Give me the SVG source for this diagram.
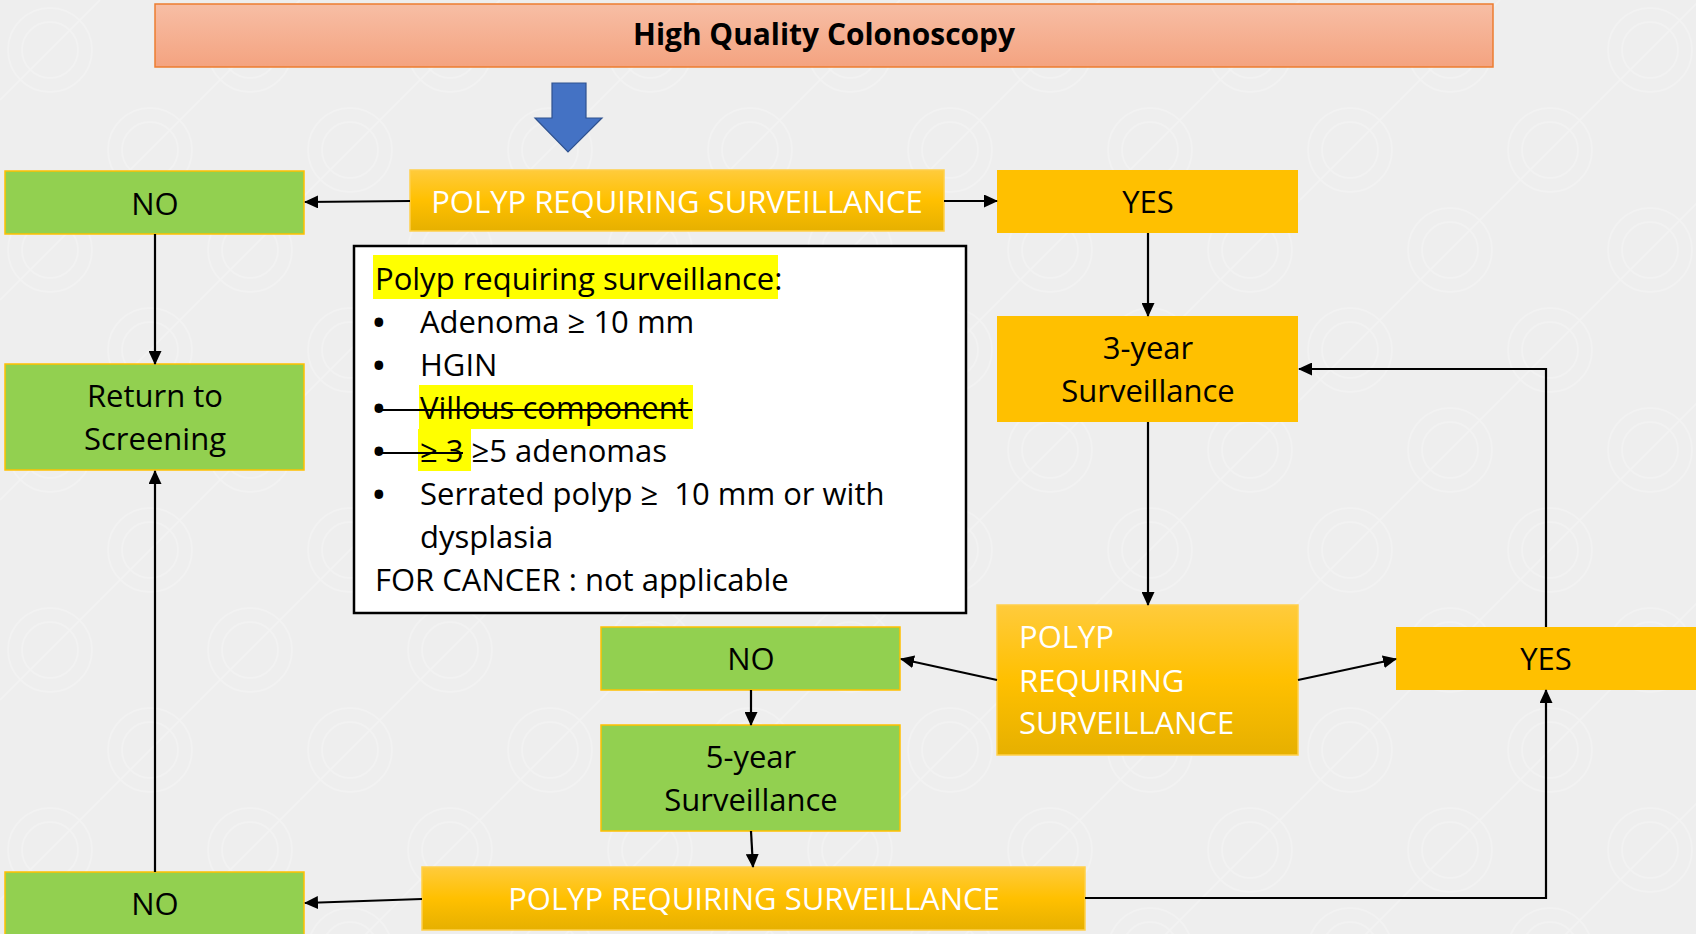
<svg xmlns="http://www.w3.org/2000/svg" width="1696" height="934" viewBox="0 0 1696 934">
<defs>
<style>
.t{font-family:"Open Sans","Noto Sans","Liberation Sans",sans-serif;font-size:31px;fill:#000}
.b{font-family:"Open Sans","Noto Sans","Liberation Sans",sans-serif;font-size:31px;font-weight:bold;fill:#000}
.w{fill:#fff}
.c{text-anchor:middle}
.green{fill:#92D050;stroke:#FFC000;stroke-width:1.5}
.yel{fill:#FFC000}
.grad{fill:url(#gy);stroke:#FFD04A;stroke-width:1.5}
.con{fill:none;stroke:#000;stroke-width:2.2}
.arr{marker-end:url(#ah)}
.hl{fill:#FFFF00}
</style>
<linearGradient id="gy" x1="0" y1="0" x2="0" y2="1">
<stop offset="0" stop-color="#FFCB3C"/>
<stop offset="0.5" stop-color="#FFC000"/>
<stop offset="1" stop-color="#E6B000"/>
</linearGradient>
<linearGradient id="gt" x1="0" y1="0" x2="0" y2="1">
<stop offset="0" stop-color="#F7BEA5"/>
<stop offset="1" stop-color="#F4A380"/>
</linearGradient>
<marker id="ah" markerUnits="userSpaceOnUse" markerWidth="14" markerHeight="13" refX="13" refY="6.5" orient="auto">
<path d="M0,0 L14,6.5 L0,13 z" fill="#000"/>
</marker>
<pattern id="bgp" width="200" height="200" patternUnits="userSpaceOnUse">
<rect width="200" height="200" fill="#EEEEEE"/>
<g fill="none" stroke="#F2F2F2" stroke-width="2">
<circle cx="50" cy="50" r="42"/><circle cx="50" cy="50" r="28"/><circle cx="150" cy="150" r="42"/><circle cx="150" cy="150" r="28"/>
<path d="M0,100 L100,0 M100,200 L200,100"/>
</g>
</pattern>
</defs>
<rect width="1696" height="934" fill="url(#bgp)"/>

<g id="title">
<rect x="155" y="4" width="1338" height="63" fill="url(#gt)" stroke="#ED7D31" stroke-width="1.5"/>
<text class="t c" x="824" y="45" font-weight="bold" font-size="28" textLength="382" lengthAdjust="spacingAndGlyphs">High Quality Colonoscopy</text>
</g>

<g id="bigArrow">
<polygon points="552,83 586,83 586,118 602,118 568,152 535,118 552,118" fill="#4472C4" stroke="#2F528F" stroke-width="1.2"/>
</g>

<g id="polyp1">
<rect class="grad" x="410" y="170" width="534" height="61"/>
<text class="t w c" x="677" y="213">POLYP REQUIRING SURVEILLANCE</text>
</g>

<g id="no1">
<rect class="green" x="5" y="171" width="299" height="63"/>
<text class="t c" x="155" y="215">NO</text>
</g>

<g id="yes1">
<rect class="yel" x="997" y="170" width="301" height="63"/>
<text class="t c" x="1148" y="213">YES</text>
</g>

<g id="criteria">
<rect x="354" y="246" width="612" height="367" fill="#fff" stroke="#000" stroke-width="2.5"/>
<rect class="hl" x="373" y="255" width="405" height="44"/>
<rect class="hl" x="419" y="385" width="274" height="44"/>
<rect class="hl" x="418" y="429" width="53" height="42"/>
<text class="t" x="375" y="290">Polyp requiring surveillance:</text>
<text class="b" x="373" y="333">•</text><text class="t" x="420" y="333">Adenoma ≥ 10 mm</text>
<text class="b" x="373" y="376">•</text><text class="t" x="420" y="376">HGIN</text>
<text class="b" x="373" y="419">•</text><text class="t" x="420" y="419">Villous component</text>
<text class="b" x="373" y="462">•</text><text class="t" x="420" y="462">≥ 3 ≥5 adenomas</text>
<text class="b" x="373" y="505">•</text><text class="t" x="420" y="505" xml:space="preserve">Serrated polyp ≥  10 mm or with</text>
<text class="t" x="420" y="548">dysplasia</text>
<text class="t" x="375" y="591">FOR CANCER : not applicable</text>
<line x1="375" y1="410" x2="692" y2="410" stroke="#000" stroke-width="2.2"/>
<line x1="375" y1="453" x2="463" y2="453" stroke="#000" stroke-width="2.2"/>
</g>

<g id="return">
<rect class="green" x="5" y="364" width="299" height="106"/>
<text class="t c" x="155" y="407">Return to</text>
<text class="t c" x="155" y="450">Screening</text>
</g>

<g id="year3">
<rect class="yel" x="997" y="316" width="301" height="106"/>
<text class="t c" x="1148" y="359">3-year</text>
<text class="t c" x="1148" y="402">Surveillance</text>
</g>

<g id="polyp2">
<rect class="grad" x="997" y="605" width="301" height="150"/>
<text class="t w" x="1019" y="648">POLYP</text>
<text class="t w" x="1019" y="692">REQUIRING</text>
<text class="t w" x="1019" y="734">SURVEILLANCE</text>
</g>

<g id="no2">
<rect class="green" x="601" y="627" width="299" height="63"/>
<text class="t c" x="751" y="670">NO</text>
</g>

<g id="yes2">
<rect class="yel" x="1396" y="627" width="301" height="63"/>
<text class="t c" x="1546" y="670">YES</text>
</g>

<g id="year5">
<rect class="green" x="601" y="725" width="299" height="106"/>
<text class="t c" x="751" y="768">5-year</text>
<text class="t c" x="751" y="811">Surveillance</text>
</g>

<g id="polyp3">
<rect class="grad" x="422" y="867" width="663" height="63"/>
<text class="t w c" x="754" y="910">POLYP REQUIRING SURVEILLANCE</text>
</g>

<g id="no3">
<rect class="green" x="5" y="872" width="299" height="63"/>
<text class="t c" x="155" y="915">NO</text>
</g>

<g id="connectors">
<line class="con arr" x1="410" y1="201" x2="305" y2="202"/>
<line class="con arr" x1="944" y1="201" x2="997" y2="201"/>
<line class="con arr" x1="155" y1="234" x2="155" y2="364"/>
<line class="con arr" x1="1148" y1="233" x2="1148" y2="316"/>
<line class="con arr" x1="1148" y1="422" x2="1148" y2="605"/>
<line class="con arr" x1="997" y1="680" x2="901" y2="659"/>
<line class="con arr" x1="1298" y1="680" x2="1396" y2="659"/>
<line class="con arr" x1="751" y1="690" x2="751" y2="725"/>
<line class="con arr" x1="751" y1="831" x2="753" y2="867"/>
<polyline class="con arr" points="1546,627 1546,369 1299,369"/>
<polyline class="con arr" points="1085,898 1546,898 1546,690"/>
<line class="con arr" x1="422" y1="899" x2="305" y2="903"/>
<line class="con arr" x1="155" y1="872" x2="155" y2="471"/>
</g>
</svg>
